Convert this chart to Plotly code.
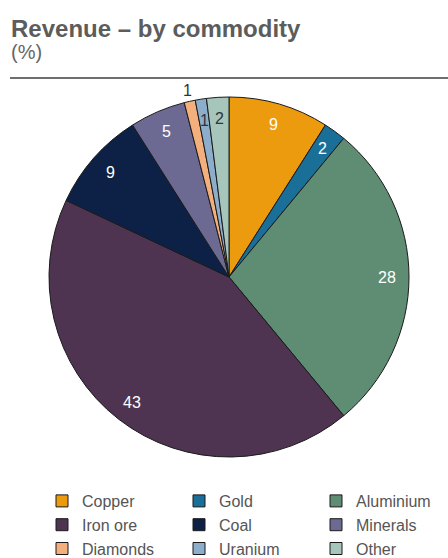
import math
import plotly.graph_objects as go

# Revenue share by commodity (%)
commodities = ["Copper", "Gold", "Aluminium", "Iron ore", "Coal",
               "Minerals", "Diamonds", "Uranium", "Other"]
shares = [9, 2, 28, 43, 9, 5, 1, 1, 2]

colors = ["#EC9A0E", "#1A6F98", "#5E8D74", "#4E3451", "#0D2146",
          "#6C6A93", "#F3AF7C", "#8DAECB", "#A6C6BB"]
label_colors = ["white", "white", "white", "white", "white",
                "white", "#333333", "#333333", "#333333"]
label_place = ["inside"] * 6 + ["outside", "inside", "inside"]

W, H = 448, 558
# pie area in pixels (left, right, top, bottom)
PX0, PX1, PY0, PY1 = 48, 410, 97, 457

fig = go.Figure(go.Pie(
    labels=commodities,
    values=shares,
    sort=False,
    direction="clockwise",
    rotation=0,
    marker=dict(colors=colors, line=dict(color="#1a1a1a", width=1)),
    textinfo="none",
    hoverinfo="label+value",
    domain=dict(x=[PX0 / W, PX1 / W], y=[1 - PY1 / H, 1 - PY0 / H]),
))

# value labels placed along each slice's mid-angle
cx, cy = (PX0 + PX1) / 2, (PY0 + PY1) / 2
radius = min(PX1 - PX0, PY1 - PY0) / 2
total = sum(shares)
annotations = []
cum = 0
for val, col, place in zip(shares, label_colors, label_place):
    mid = (cum + val / 2) / total * 2 * math.pi
    cum += val
    r = radius * (0.88 if place == "inside" else 1.06)
    px = cx + r * math.sin(mid)
    py = cy - r * math.cos(mid)
    annotations.append(dict(
        text=str(val), x=px / W, y=1 - py / H, xref="paper", yref="paper",
        xanchor="center", yanchor="middle", showarrow=False,
        font=dict(family="Liberation Sans, Arial", size=16, color=col)))

annotations += [
    dict(text="<b>Revenue – by commodity</b>", x=9 / W, y=1 - 13 / H,
         xref="paper", yref="paper", xanchor="left", yanchor="top",
         showarrow=False,
         font=dict(family="Liberation Sans, Arial", size=24, color="#5c5c5c")),
    dict(text="(%)", x=9 / W, y=1 - 39 / H,
         xref="paper", yref="paper", xanchor="left", yanchor="top",
         showarrow=False,
         font=dict(family="Liberation Sans, Arial", size=20, color="#666666")),
]

fig.update_layout(
    width=W,
    height=H,
    margin=dict(l=0, r=0, t=0, b=0, autoexpand=False),
    paper_bgcolor="white",
    plot_bgcolor="white",
    showlegend=True,
    legend=dict(
        orientation="h",
        x=42 / W, y=1 - 484 / H, xanchor="left", yanchor="top",
        entrywidth=92, entrywidthmode="pixels",
        font=dict(family="Liberation Sans, Arial", size=16, color="#555555"),
        traceorder="normal",
        bgcolor="rgba(0,0,0,0)",
    ),
    annotations=annotations,
    shapes=[
        dict(type="line", xref="paper", yref="paper",
             x0=10 / W, x1=1, y0=1 - 78 / H, y1=1 - 78 / H,
             line=dict(color="#6e6e6e", width=2)),
    ],
)

fig.write_html("out.html")
